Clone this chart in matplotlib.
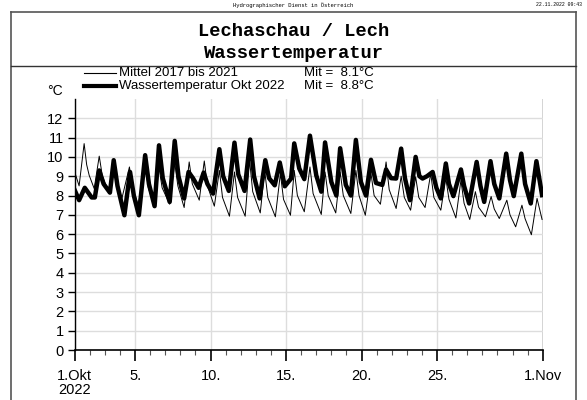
"""Wassertemperatur Lechaschau / Lech, Oktober 2022 gegen Mittel 2017-2021."""

import matplotlib
matplotlib.use("Agg")
from matplotlib import pyplot as plt
from matplotlib.lines import Line2D

# Stunden seit 1. Okt 2022 00:00 und Temperatur (°C)
hours_2022 = [0, 7, 16, 27, 32, 39, 46, 56, 62, 68, 79, 88, 94, 102, 112, 118,
              127, 134, 140, 151, 159, 165, 174, 181, 188, 197, 205, 211, 220, 230,
              236, 245, 254, 260, 270, 279, 285, 294, 303, 309, 318, 326, 334, 344,
              349, 357, 365, 374, 384, 392, 398, 408, 416, 422, 431, 439, 447, 455,
              463, 471, 479, 489, 495, 503, 511, 519, 525, 533, 542, 548, 553, 560,
              569, 575, 582, 590, 595, 602, 614, 619, 627, 639, 645, 651, 661, 667,
              675, 686, 692, 698, 710, 716, 725, 734, 743]
temp_2022 = [8.28, 7.76, 8.4, 7.9, 7.9, 9.3, 8.6, 8.15, 9.83, 8.5, 6.98, 9.22, 8.0,
             6.98, 10.09, 8.6, 7.45, 10.6, 8.9, 7.67, 10.83, 9.0, 7.85, 9.22, 8.9,
             8.4, 9.19, 8.6, 8.1, 10.4, 9.0, 8.24, 10.74, 9.1, 8.24, 10.9, 9.0, 7.85,
             9.83, 8.9, 8.53, 9.71, 8.48, 8.88, 10.7, 9.4, 8.85, 11.1, 9.05, 8.2,
             10.75, 8.7, 8.0, 10.45, 8.55, 8.0, 10.88, 8.7, 8.0, 9.85, 8.65, 8.55,
             9.35, 8.9, 8.88, 10.43, 8.9, 7.76, 10.0, 9.0, 8.88, 9.0, 9.22, 8.4, 7.85,
             9.66, 8.6, 7.97, 9.35, 8.5, 7.59, 9.74, 8.5, 7.67, 9.78, 8.6, 7.85, 10.17,
             8.8, 7.97, 10.17, 8.6, 7.59, 9.78, 8.02]

hours_mittel = [0, 7, 15, 19, 23, 31, 39, 44, 50, 56, 61, 66, 75, 87, 92, 101, 112,
                117, 127, 134, 139, 151, 159, 164, 174, 182, 187, 198, 206, 211, 222,
                230, 235, 246, 254, 259, 271, 278, 283, 295, 302, 307, 319, 327, 332,
                343, 349, 354, 365, 374, 379, 392, 398, 403, 415, 422, 427, 439, 447,
                452, 462, 471, 476, 486, 495, 500, 511, 519, 524, 534, 542, 547, 557,
                566, 571, 582, 590, 595, 606, 614, 619, 628, 637, 642, 653, 662, 667,
                675, 687, 692, 701, 711, 716, 726, 735, 743]
temp_mittel = [9.22, 8.5, 10.69, 9.6, 9.05, 8.36, 10.04, 9.0, 8.5, 8.28, 9.7, 8.7,
               7.85, 9.48, 8.4, 7.5, 9.6, 8.4, 7.4, 9.45, 8.4, 7.55, 9.7, 8.5, 7.38,
               9.74, 8.6, 7.76, 9.79, 8.5, 7.45, 9.3, 7.9, 6.93, 9.22, 7.9, 6.93, 9.83,
               8.2, 7.1, 9.3, 7.9, 6.9, 9.14, 7.8, 6.98, 9.3, 8.0, 7.16, 9.48, 8.1,
               7.02, 9.22, 8.0, 7.1, 9.22, 8.0, 7.07, 9.3, 8.0, 6.98, 9.14, 8.0, 7.55,
               9.74, 8.3, 7.33, 9.0, 7.9, 7.24, 8.97, 7.9, 7.38, 9.14, 7.9, 7.24, 8.9,
               7.8, 6.84, 8.79, 7.6, 6.76, 8.2, 7.4, 6.9, 7.95, 7.3, 6.81, 7.76, 7.0,
               6.38, 7.5, 6.8, 5.97, 7.85, 6.76]

legend_labels = ["Mittel 2017 bis 2021", "Wassertemperatur Okt 2022"]
legend_means = ["Mit =  8.1°C", "Mit =  8.8°C"]

tick_days = [0, 4, 9, 14, 19, 24, 31]
tick_labels = ["1.Okt\n2022", "5.", "10.", "15.", "20.", "25.", "1.Nov"]
y_ticks = list(range(0, 13))

assert len(hours_2022) == len(temp_2022)
assert len(hours_mittel) == len(temp_mittel)

W, H = 587, 400
plt.rcParams["font.family"] = ["Liberation Sans", "DejaVu Sans"]

fig = plt.figure(figsize=(W / 100, H / 100), dpi=100)
ax = fig.add_axes([74.7 / W, 1 - 350 / H, (542.7 - 74.7) / W, (350 - 99) / H])

# Rahmen und Kopf
frame_c = "#555555"
fig.add_artist(Line2D([11 / W, 11 / W], [0, 1 - 12 / H], color=frame_c, lw=1.2,
                      transform=fig.transFigure))
fig.add_artist(Line2D([576 / W, 576 / W], [0, 1 - 12 / H], color=frame_c, lw=1.2,
                      transform=fig.transFigure))
fig.add_artist(Line2D([11 / W, 576 / W], [1 - 12 / H, 1 - 12 / H], color=frame_c,
                      lw=1.2, transform=fig.transFigure))
fig.add_artist(Line2D([11 / W, 576 / W], [1 - 66 / H, 1 - 66 / H], color="#333333",
                      lw=1.0, transform=fig.transFigure))

fig.text(0.5, 1 - 5 / H, "Hydrographischer Dienst in Österreich", ha="center",
         va="center", fontsize=4, family="Liberation Mono")
fig.text(582 / W, 1 - 5 / H, "22.11.2022 09:43", ha="right", va="center",
         fontsize=3.5, family="Liberation Mono")
fig.text(0.5, 1 - 31 / H, "Lechaschau / Lech", ha="center", va="center",
         fontsize=13.5, family="Liberation Mono", weight="bold")
fig.text(0.5, 1 - 53 / H, "Wassertemperatur", ha="center", va="center",
         fontsize=13.5, family="Liberation Mono", weight="bold")

# Legende
for i, (lab, mean) in enumerate(zip(legend_labels, legend_means)):
    yy = 1 - (73 + 13 * i) / H
    fig.add_artist(Line2D([84 / W, 116 / W], [yy, yy], color="black",
                          lw=0.8 if i == 0 else 3.0, transform=fig.transFigure))
    fig.text(119 / W, yy, lab, ha="left", va="center", fontsize=9.5)
    fig.text(304 / W, yy, mean, ha="left", va="center", fontsize=9.5)
fig.text(55 / W, 1 - 91 / H, "°C", ha="center", va="center", fontsize=10)

# Daten
ax.plot([h / 24 for h in hours_mittel], temp_mittel, color="black", lw=0.7)
ax.plot([h / 24 for h in hours_2022], temp_2022, color="black", lw=3.2,
        solid_joinstyle="round")

ax.set_xlim(0, 31)
ax.set_ylim(0, 13)
ax.set_yticks(y_ticks)
ax.set_xticks(tick_days)
ax.set_xticklabels(tick_labels)
ax.set_xticks(range(0, 32), minor=True)
ax.tick_params(axis="y", length=5, width=1, labelsize=10.5, pad=3)
ax.tick_params(axis="x", which="major", length=8, width=1.2, labelsize=10.5,
               pad=6, direction="out")
ax.tick_params(axis="x", which="minor", length=3.5, width=0.8, color="#555555")
for lab in ax.get_xticklabels():
    lab.set_linespacing(1.0)

ax.grid(True, which="major", color="#dddddd", lw=1.0)
ax.set_axisbelow(True)
for s in ["top", "right"]:
    ax.spines[s].set_visible(False)
ax.axvline(31, color="#cccccc", lw=1.2, zorder=0)
ax.spines["left"].set_linewidth(1.0)
ax.spines["bottom"].set_linewidth(1.2)

fig.savefig("out.png", dpi=100)
